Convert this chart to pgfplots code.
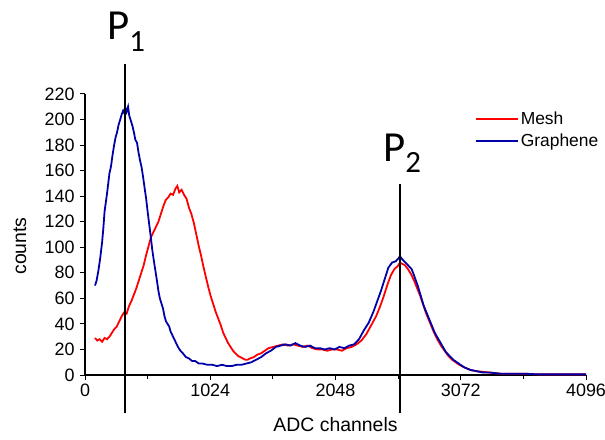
\documentclass[border=0pt]{standalone}
\usepackage{pgfplots}
\pgfplotsset{compat=1.18}
\usepackage{fontspec}
\setmainfont{Liberation Sans}
\newfontfamily\calibri{Carlito}
\definecolor{meshred}{RGB}{255,0,0}
\definecolor{grblue}{RGB}{0,0,170}
\pgfplotsset{
    longline/.style={legend image code/.code={
        \draw[mark repeat=2,mark phase=2,##1] plot coordinates {(0bp,0bp) (21bp,0bp) (42bp,0bp)};}},
}

\begin{document}
\begin{tikzpicture}
\useasboundingbox (0,0) rectangle (605bp,440bp);
\begin{axis}[
    scale only axis,
    width=501bp, height=281bp,
    at={(85bp,65bp)}, anchor=south west,
    xmin=0, xmax=4096,
    ymin=0, ymax=220,
    axis x line*=bottom,
    axis y line*=left,
    xtick={0,1024,2048,3072,4096},
    minor xtick={512,1536,2560,3584},
    ytick={0,20,...,220},
    tick align=outside,
    major tick length=5bp, minor tick length=4bp,
    tick style={black, line width=1pt},
    axis line style={line width=1.2pt},
    every tick label/.append style={font=\fontsize{18}{18}\selectfont},
    yticklabel style={xshift=-2bp},
    /pgf/number format/assume math mode=true,
    /pgf/number format/1000 sep={},
    xlabel={ADC channels},
    ylabel={counts},
    label style={font=\fontsize{19.5}{19.5}\selectfont},
    xlabel style={at={(axis description cs:0.5,-0.178)}, anchor=center},
    ylabel style={at={(axis description cs:-0.13,0.459)}, anchor=center},
    clip=false,
    legend style={draw=none, fill=none, at={(axis description cs:0.778,0.945)},
        anchor=north west, inner sep=0pt, row sep=4bp,
        font=\fontsize{17.5}{17.5}\selectfont},
    legend cell align=left,
]

% Mesh
\addplot[meshred, line width=1.8pt, longline] coordinates {
(82,29)(100,27)(120,28)(140,26)(160,29)(180,28)(200,30)(220,33)(240,36)(260,38)
(280,42)(300,46)(320,49)(340,48)(360,54)(380,58)(400,63)(420,68)(440,74)(460,80)
(480,86)(500,94)(520,101)(540,108)(560,112)(580,116)(600,120)(620,126)(640,132)
(660,137)(680,139)(700,142)(720,141)(740,146)(755,148)(770,143)(790,145)(810,141)
(830,138)(850,131)(870,126)(890,119)(910,110)(930,101)(950,93)(970,84)(990,76)
(1010,68)(1030,61)(1050,55)(1070,49)(1090,44)(1110,39)(1130,33)(1150,29)(1170,25)
(1190,22)(1210,19)(1230,17)(1250,15)(1270,14)(1290,13)(1310,12)(1330,12)(1350,13)
(1380,14)(1410,16)(1440,17)(1470,19)(1500,21)(1540,22)(1580,23)(1620,24)(1660,23)
(1700,24)(1740,23)(1780,22)(1820,23)(1860,21)(1900,20)(1940,20)(1980,19)(2020,20)
(2060,20)(2100,19)(2140,21)(2180,22)(2220,24)(2260,27)(2300,32)(2340,39)(2380,46)
(2410,53)(2440,61)(2470,70)(2500,78)(2530,83)(2555,85)(2575,88)(2595,87)(2615,86)
(2640,83)(2665,79)(2690,74)(2715,68)(2740,62)(2765,55)(2790,48)(2820,41)(2850,34)
(2880,28)(2910,23)(2940,19)(2970,15)(3000,12)(3030,10)(3060,8)(3100,6)(3150,4)
(3200,3)(3300,2)(3400,1)(3500,1)(3600,1)(3700,0.5)(3800,0.5)(4096,0.5)
};
\addlegendentry{Mesh}

% Graphene
\addplot[grblue, line width=1.8pt, longline] coordinates {
(82,70)(95,74)(110,82)(125,92)(140,104)(150,115)(160,128)(170,135)(180,142)(190,150)
(200,158)(212,163)(225,172)(238,180)(250,186)(262,190)(275,196)(288,200)(300,204)
(312,207)(322,205)(330,209)(340,206)(352,210)(362,203)(375,199)(388,195)(400,190)
(412,184)(425,182)(438,174)(450,168)(462,163)(475,155)(488,146)(500,138)(512,128)
(525,118)(538,108)(550,98)(562,90)(575,82)(588,74)(600,66)(612,60)(625,56)(638,52)
(650,46)(662,42)(675,40)(688,38)(700,34)(720,30)(740,26)(760,22)(780,19)(800,17)
(825,14)(850,13)(875,11)(900,11)(930,9)(960,9)(1000,8)(1040,8)(1080,7)(1120,8)
(1160,7)(1200,7)(1240,8)(1280,8)(1320,9)(1360,10)(1400,12)(1440,14)(1480,17)
(1520,19)(1560,22)(1600,23)(1640,24)(1680,23)(1720,25)(1760,23)(1800,22)(1840,23)
(1880,21)(1920,21)(1960,20)(2000,21)(2040,20)(2080,22)(2120,21)(2160,23)(2200,24)
(2240,28)(2280,35)(2320,41)(2360,50)(2390,58)(2420,66)(2450,75)(2480,84)(2510,88)
(2540,89)(2560,91)(2575,93)(2590,91)(2610,89)(2640,86)(2670,83)(2690,78)(2720,70)
(2745,62)(2770,54)(2800,47)(2830,40)(2860,33)(2890,28)(2920,23)(2950,18)(2980,15)
(3010,12)(3040,10)(3070,8)(3100,6)(3150,4)(3200,3)(3250,2)(3300,2)(3400,1)(3500,1)
(3600,1)(3700,0.5)(3800,0.5)(3900,0.5)(4000,0.5)(4096,0.5)
};
\addlegendentry{Graphene}

% peak markers
\draw[black, line width=1.5pt] (axis cs:327,-30) -- (axis cs:327,243.5);
\draw[black, line width=1.5pt] (axis cs:2577,-30) -- (axis cs:2577,149.3);
\end{axis}

\node[anchor=base west, inner sep=0, font=\calibri\fontsize{43}{43}\selectfont]
    at (107bp,400bp) {P\raisebox{-12bp}{\fontsize{31}{31}\selectfont 1}};
\node[anchor=base west, inner sep=0, font=\calibri\fontsize{43}{43}\selectfont]
    at (383bp,278bp) {P\raisebox{-11bp}{\fontsize{31}{31}\selectfont 2}};
\end{tikzpicture}
\end{document}
